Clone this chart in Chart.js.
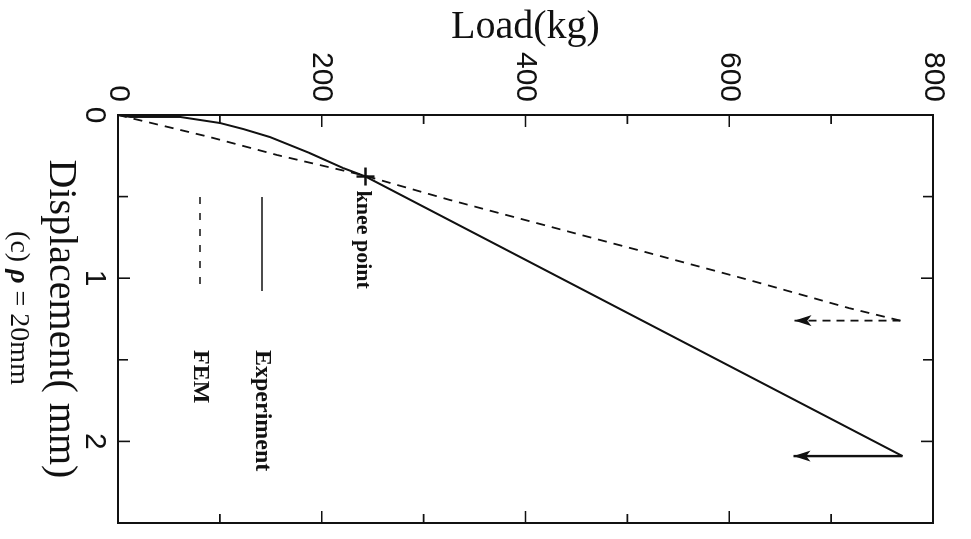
<!DOCTYPE html>
<html><head><meta charset="utf-8">
<script src="https://cdn.jsdelivr.net/npm/chart.js@4.4.0/dist/chart.umd.min.js"></script>
<style>
html,body{margin:0;padding:0;background:#fff;overflow:hidden;width:971px;height:539px;}
#wrap{position:absolute;left:0;top:0;width:539px;height:971px;transform-origin:0 0;transform:translateX(971px) rotate(90deg);}
canvas{display:block;}
</style></head>
<body><div id="wrap"><canvas id="c" width="539" height="971" style="width:539px;height:971px"></canvas></div>
<script>
// Experiment (solid): displacement (mm) vs load (kg)
const expDisp = [0, 0.012, 0.012, 0.049, 0.086, 0.135, 0.233, 0.325, 0.377, 2.09];
const expLoad = [0, 12, 61, 100, 123, 149, 188, 221, 243, 770];
// Experiment unloading arrow (drop in load at final displacement)
const expArrowDisp = [2.09, 2.09];
const expArrowLoad = [770, 663];
// FEM (dashed)
const femDisp = [0, 0.135, 0.245, 0.368, 0.521, 0.847, 1.012, 1.184, 1.26];
const femLoad = [0, 90, 156, 240, 326, 522, 620, 718, 768];
const femArrowDisp = [1.26, 1.26];
const femArrowLoad = [768, 664];
// knee point
const kneeDisp = [0.377];
const kneeLoad = [243];
// axes
const dispTicks = [0, 1, 2];
const loadTicks = [0, 200, 400, 600, 800];
const seriesNames = ['Experiment', 'FEM'];
const captionParts = [['(c) ', 'normal'], ['ρ', 'bold italic'], [' = 20mm', 'normal']];

const pts = (xs, ys) => xs.map((v, i) => ({x: v, y: ys[i]}));
const INK = '#111';

const decor = {
  id: 'decor',
  afterDatasetsDraw(chart) {
    const {ctx, chartArea: a, scales: {x, y}} = chart;
    ctx.save();
    ctx.strokeStyle = INK; ctx.fillStyle = INK;
    // frame
    ctx.lineWidth = 2;
    ctx.strokeRect(a.left, a.top, a.right - a.left, a.bottom - a.top);
    // inward ticks on all four sides
    ctx.lineWidth = 1.6;
    x.ticks.forEach(t => {
      const p = x.getPixelForValue(t.value);
      if (p <= a.left + 1 || p >= a.right - 1) return;
      const len = Number.isInteger(t.value) ? 12 : 10;
      ctx.beginPath();
      ctx.moveTo(p, a.bottom); ctx.lineTo(p, a.bottom - len);
      ctx.moveTo(p, a.top); ctx.lineTo(p, a.top + len);
      ctx.stroke();
    });
    y.ticks.forEach(t => {
      const p = y.getPixelForValue(t.value);
      if (p <= a.top + 1 || p >= a.bottom - 1) return;
      const len = (t.value % 200 === 0) ? 12 : 9;
      ctx.beginPath();
      ctx.moveTo(a.left, p); ctx.lineTo(a.left + len, p);
      ctx.moveTo(a.right, p); ctx.lineTo(a.right - len, p);
      ctx.stroke();
    });
    // arrowheads at the end of the unloading arrows
    [1, 3].forEach(i => {
      const d = chart.getDatasetMeta(i).data;
      const p0 = d[d.length - 2], p1 = d[d.length - 1];
      const ang = Math.atan2(p1.y - p0.y, p1.x - p0.x);
      const L = 17, W = 5.5;
      ctx.save();
      ctx.translate(p1.x, p1.y); ctx.rotate(ang);
      ctx.beginPath();
      ctx.moveTo(0, 0); ctx.lineTo(-L, -W); ctx.lineTo(-L * 0.75, 0); ctx.lineTo(-L, W);
      ctx.closePath(); ctx.fill();
      ctx.restore();
    });
    // knee point label
    const k = chart.getDatasetMeta(4).data[0];
    ctx.font = 'bold 22px "Liberation Serif"';
    ctx.textAlign = 'left'; ctx.textBaseline = 'middle';
    ctx.fillText('knee point', k.x + 14, k.y + 3);
    // legend
    const lg = [
      {name: seriesNames[0], dash: [], off: 144},
      {name: seriesNames[1], dash: [7, 9], off: 82}
    ];
    ctx.font = 'bold 24px "Liberation Serif"';
    lg.forEach(item => {
      const yy = a.bottom - item.off;
      ctx.setLineDash(item.dash);
      ctx.lineWidth = 1.6;
      ctx.beginPath(); ctx.moveTo(a.left + 82, yy); ctx.lineTo(a.left + 176, yy); ctx.stroke();
      ctx.setLineDash([]);
      ctx.fillText(item.name, a.left + 235, yy);
    });
    // caption below the displacement title
    const fonts = captionParts.map(p => p[1] + ' 28px "Liberation Serif"');
    let total = 0;
    const widths = captionParts.map((p, i) => { ctx.font = fonts[i]; const w = ctx.measureText(p[0]).width; total += w; return w; });
    let cx = (a.left + a.right) / 2 - 11 - total / 2;
    const cy = chart.height - 18;
    ctx.textAlign = 'left';
    captionParts.forEach((p, i) => { ctx.font = fonts[i]; ctx.fillText(p[0], cx, cy); cx += widths[i]; });
    ctx.restore();
  }
};

new Chart(document.getElementById('c'), {
  type: 'scatter',
  data: {
    datasets: [
      {label: seriesNames[0], data: pts(expDisp, expLoad), showLine: true, borderColor: INK, borderWidth: 2, pointRadius: 0, tension: 0},
      {label: 'exp-arrow', data: pts(expArrowDisp, expArrowLoad), showLine: true, borderColor: INK, borderWidth: 2.4, pointRadius: 0},
      {label: seriesNames[1], data: pts(femDisp, femLoad), showLine: true, borderColor: INK, borderWidth: 1.8, borderDash: [9, 7], pointRadius: 0, tension: 0},
      {label: 'fem-arrow', data: pts(femArrowDisp, femArrowLoad), showLine: true, borderColor: INK, borderWidth: 1.8, borderDash: [8, 6], pointRadius: 0},
      {label: 'knee', data: pts(kneeDisp, kneeLoad), showLine: false, pointStyle: 'cross', pointRadius: 9, borderColor: INK, borderWidth: 2.4}
    ]
  },
  options: {
    responsive: false,
    animation: false,
    layout: {padding: {top: 38, right: 16, left: 0, bottom: 0}},
    plugins: {
      legend: {display: false},
      tooltip: {enabled: false}
    },
    scales: {
      x: {
        type: 'linear', min: 0, max: 2.5,
        grid: {display: false, drawTicks: false},
        border: {display: false},
        ticks: {
          stepSize: 0.5, autoSkip: false, maxRotation: 0, padding: 6, color: INK,
          font: {family: '"Liberation Sans"', size: 30},
          callback: v => dispTicks.includes(v) ? String(v) : ''
        },
        title: {display: true, text: 'Displacement( mm)', color: INK,
          font: {family: '"Liberation Serif"', size: 40, lineHeight: 1.2}, padding: {top: 0, bottom: 37}},
        afterFit: s => { s.height = 118; }
      },
      y: {
        type: 'linear', min: 0, max: 800,
        grid: {display: false, drawTicks: false},
        border: {display: false},
        ticks: {
          stepSize: 100, autoSkip: false, padding: 13, color: INK,
          font: {family: '"Liberation Sans"', size: 30},
          callback: v => loadTicks.includes(v) ? String(v) : ''
        },
        title: {display: true, text: 'Load(kg)', color: INK,
          font: {family: '"Liberation Serif"', size: 40, lineHeight: 1.2}, padding: {top: 3, bottom: 0}},
        afterFit: s => { s.width = 115; }
      }
    }
  },
  plugins: [decor]
});
</script>
</body></html>
